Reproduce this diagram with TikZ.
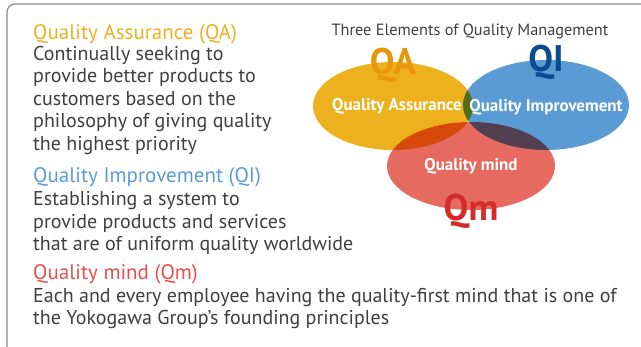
\documentclass[tikz,border=0pt]{standalone}
\usepackage{fontspec}
\setmainfont{PT Sans}
\usetikzlibrary{positioning,shapes.geometric}

\definecolor{qayellow}{HTML}{EEB11E}
\definecolor{qiblue}{HTML}{5B9BD5}
\definecolor{qmred}{HTML}{E76A61}
\definecolor{qadark}{HTML}{E8960A}
\definecolor{qidark}{HTML}{0A4C94}
\definecolor{qmdark}{HTML}{D52B2B}
\definecolor{qahead}{HTML}{F0AF22}
\definecolor{qihead}{HTML}{5A9BD5}
\definecolor{qmhead}{HTML}{E2504F}
\definecolor{bodygray}{HTML}{3F3F3F}
\definecolor{framegray}{HTML}{8A8A8A}

\begin{document}
\begin{tikzpicture}[
  x=1pt, y=-1pt,
  head/.style={anchor=base west, inner sep=0pt, font=\fontsize{21}{22}\selectfont},
  body/.style={inner sep=0pt, align=left, text=bodygray,
    font=\fontsize{20}{22.5}\selectfont},
  venn/.style={ellipse, inner sep=0pt},
  inlabel/.style={text=white, font=\bfseries\fontsize{17}{17}\selectfont},
  biglabel/.style={font=\bfseries\fontsize{37}{37}\selectfont}
]
\useasboundingbox (0,0) rectangle (641,347);

% frame, cut off at right and bottom
\draw[framegray, line width=1.2pt, rounded corners=8pt] (641,4) -- (7,4) -- (7,347);

% explanations
\node[head, text=qahead] (hqa) at (33,40) {Quality Assurance (QA)};
\node[body, below=1pt of hqa.south west, anchor=north west] (tqa)
  {Continually seeking to\\provide better products to\\customers based on the\\
   philosophy of giving quality\\the highest priority};
\node[head, text=qihead] (hqi) at (33,183) {Quality Improvement (QI)};
\node[body, below=3.5pt of hqi.south west, anchor=north west] (tqi)
  {Establishing a system to\\provide products and services\\
   that are of uniform quality worldwide};
\node[head, text=qmhead] (hqm) at (33,280) {Quality mind (Qm)};
\node[body, below=3pt of hqm.south west, anchor=north west] (tqm)
  {Each and every employee having the quality-first mind that is one of\\
   the Yokogawa Group’s founding principles};

% Venn diagram
\node[text=bodygray, font=\fontsize{16.3}{16}\selectfont] (title) at (470,31)
  {Three Elements of Quality Management};
\begin{scope}[blend group=multiply]
  \node[venn, fill=qayellow, minimum width=160pt, minimum height=88pt] (qa) at (393,106) {};
  \node[venn, fill=qiblue, minimum width=166pt, minimum height=90pt] (qi) at (546,105) {};
  \node[venn, fill=qmred, minimum width=168pt, minimum height=88pt] (qm) at (471,166) {};
\end{scope}
\node[inlabel] (lqa) at ([xshift=4pt]qa.center) {Quality Assurance};
\node[inlabel] (lqi) at ([yshift=-2pt]qi.center) {Quality Improvement};
\node[inlabel] (lqm) at (qm.center) {Quality mind};
\node[biglabel, text=qadark] (bqa) at ([yshift=-3pt]qa.north) {QA};
\node[biglabel, text=qidark] (bqi) at ([yshift=-2pt]qi.north) {QI};
\node[biglabel, text=qmdark] (bqm) at ([yshift=-1pt]qm.south) {Qm};
\end{tikzpicture}
\end{document}
